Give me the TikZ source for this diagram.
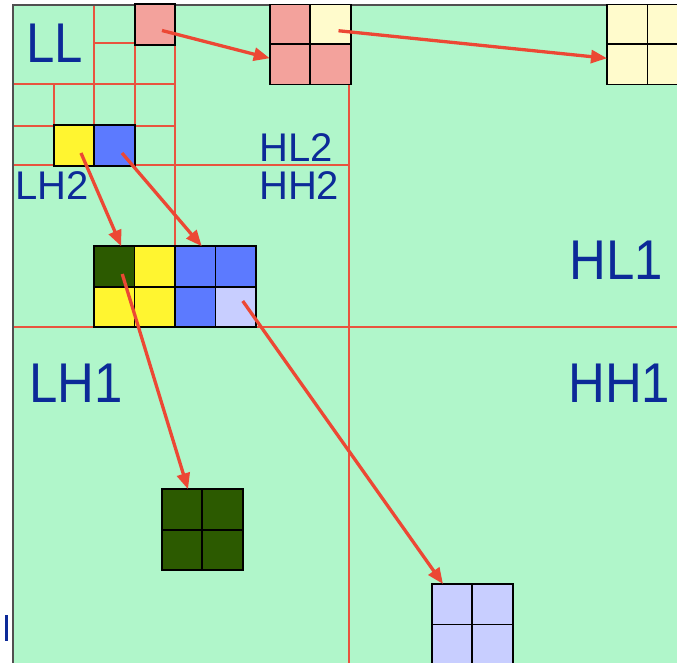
\documentclass[tikz,border=0pt]{standalone}
\usepackage{fontspec}
\setmainfont{Liberation Sans}
\usetikzlibrary{arrows.meta,calc}

\definecolor{mint}{RGB}{176,246,202}
\definecolor{gridred}{RGB}{232,84,62}
\definecolor{arrowred}{RGB}{236,72,52}
\definecolor{labelblue}{RGB}{12,42,152}
\definecolor{framegray}{RGB}{80,80,80}
\definecolor{pinkcell}{RGB}{243,162,156}
\definecolor{creamcell}{RGB}{255,251,204}
\definecolor{yellowcell}{RGB}{255,245,48}
\definecolor{bluecell}{RGB}{92,122,255}
\definecolor{lavcell}{RGB}{200,206,255}
\definecolor{greencell}{RGB}{44,90,0}

\newcommand{\narrowtext}[1]{\scalebox{0.91}[1]{#1}}

\begin{document}
\begin{tikzpicture}[x=1pt,y=-1pt,
  cell/.style={draw=black, line width=1.8pt, minimum size=40.5pt, inner sep=0pt, outer sep=0pt},
  thinline/.style={draw=gridred, line width=1.6pt},
  mainline/.style={draw=gridred, line width=2.8pt},
  link/.style={draw=arrowred, line width=3.3pt, -{Triangle[length=16pt,width=13pt]}},
  bandlabel/.style={text=labelblue, anchor=base west, inner sep=0pt, font=\fontsize{40}{40}\selectfont},
  biglabel/.style={text=labelblue, anchor=base west, inner sep=0pt, font=\fontsize{56}{56}\selectfont}]
\useasboundingbox (0,0) rectangle (677,663);

% subband field
\fill[mint] (13,5) rectangle (677,663);

% level-1 split
\draw[mainline] (349,5) -- (349,663);
\draw[mainline] (13,327) -- (677,327);
% level-2 split
\draw[thinline] (175,5) -- (175,327);
\draw[thinline] (13,165) -- (349,165);
% level-3 split
\draw[thinline] (94,5) -- (94,165);
\draw[thinline] (13,84) -- (175,84);
% level-4 splits
\draw[thinline] (135,5) -- (135,165);
\draw[thinline] (94,43) -- (175,43);
\draw[thinline] (13,126) -- (175,126);
\draw[thinline] (54,84) -- (54,165);

% frame
\draw[framegray, line width=1.4pt] (13,663) -- (13,5) -- (677,5);

% coefficients
\node[cell, fill=pinkcell] (p1) at (155,24.5) {};
\node[cell, fill=yellowcell] (y1) at (74,145.5) {};
\node[cell, fill=bluecell] (b1) at (114.5,145.5) {};

\node[cell, fill=pinkcell]  (pk11) at (290,24.75) {};
\node[cell, fill=creamcell] (pk12) at (330.5,24.75) {};
\node[cell, fill=pinkcell]  (pk21) at (290,64.25) {};
\node[cell, fill=pinkcell]  (pk22) at (330.5,64.25) {};

\node[cell, fill=creamcell] (cr11) at (627.25,24.75) {};
\node[cell, fill=creamcell] (cr12) at (667.75,24.75) {};
\node[cell, fill=creamcell] (cr21) at (627.25,64.25) {};
\node[cell, fill=creamcell] (cr22) at (667.75,64.25) {};

\node[cell, fill=greencell]  (g1) at (114.25,266.5) {};
\node[cell, fill=yellowcell] (y2) at (154.75,266.5) {};
\node[cell, fill=bluecell]   (b2) at (195.25,266.5) {};
\node[cell, fill=bluecell]   (b3) at (235.75,266.5) {};
\node[cell, fill=yellowcell] (y3) at (114.25,307) {};
\node[cell, fill=yellowcell] (y4) at (154.75,307) {};
\node[cell, fill=bluecell]   (b4) at (195.25,307) {};
\node[cell, fill=lavcell]    (l1) at (235.75,307) {};

\node[cell, fill=greencell] (gn11) at (182,509.5) {};
\node[cell, fill=greencell] (gn12) at (222.5,509.5) {};
\node[cell, fill=greencell] (gn21) at (182,550) {};
\node[cell, fill=greencell] (gn22) at (222.5,550) {};

\node[cell, fill=lavcell] (lv11) at (452,604.25) {};
\node[cell, fill=lavcell] (lv12) at (492.5,604.25) {};
\node[cell, fill=lavcell] (lv21) at (452,644.75) {};
\node[cell, fill=lavcell] (lv22) at (492.5,644.75) {};

% parent-to-children links
\draw[link] ($(p1.center)+(7,6)$) -- ($(pk21.west)+(0,-6)$);
\draw[link] ($(pk12.center)+(8,6)$) -- ($(cr21.west)+(0,-6)$);
\draw[link] ($(y1.center)+(7,7.5)$) -- ($(g1.north)+(7,0)$);
\draw[link] ($(b1.center)+(7.5,7.5)$) -- ($(b2.north)+(6.5,0)$);
\draw[link] ($(g1.center)+(8,7.5)$) -- ($(gn11.north)+(6,0)$);
\draw[link] ($(l1.center)+(7,-6)$) -- ($(lv11.north)+(-9,0)$);

% subband names
\node[biglabel]  (tLL)  at (26,63)   {\narrowtext{LL}};
\node[bandlabel] (tHL2) at (259,162) {HL2};
\node[bandlabel] (tLH2) at (15,200)  {LH2};
\node[bandlabel] (tHH2) at (259,200) {HH2};
\node[biglabel]  (tHL1) at (569,279) {\narrowtext{HL1}};
\node[biglabel]  (tLH1) at (29,402)  {\narrowtext{LH1}};
\node[biglabel]  (tHH1) at (568,402) {\narrowtext{HH1}};

% stray mark in the left margin
\fill[labelblue] (5,615) rectangle (7.5,641);
\end{tikzpicture}
\end{document}
